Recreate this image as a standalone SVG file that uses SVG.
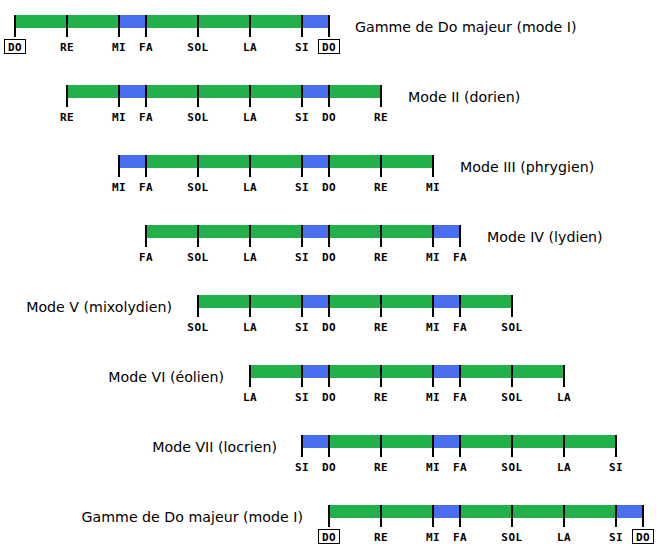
<svg xmlns="http://www.w3.org/2000/svg" width="660" height="549" viewBox="0 0 660 549">
<style>
.t{fill:#22b04b}
.s{fill:#4a6ef0}
.k{stroke:#000;stroke-width:2}
.n{font-family:"DejaVu Sans Mono",monospace;font-weight:bold;font-size:11px;text-anchor:middle;fill:#000;letter-spacing:0.5px}
.b{fill:none;stroke:#000;stroke-width:1}
.L{font-family:"DejaVu Sans",Verdana,sans-serif;font-size:14.2px;fill:#000}
.e{text-anchor:end}
</style>
<rect width="660" height="549" fill="#fff"/>

<g id="row1" transform="translate(0,15)">
<rect class="t" x="15" y="0" width="52" height="13"/><rect class="t" x="67" y="0" width="52" height="13"/><rect class="s" x="119" y="0" width="27" height="13"/><rect class="t" x="146" y="0" width="52" height="13"/><rect class="t" x="198" y="0" width="52" height="13"/><rect class="t" x="250" y="0" width="52" height="13"/><rect class="s" x="302" y="0" width="27" height="13"/>
<path class="k" d="M15 0V22M67 0V22M119 0V22M146 0V22M198 0V22M250 0V22M302 0V22M329 0V22"/>
<rect class="b" x="4.5" y="24.5" width="21" height="14"/><rect class="b" x="318.5" y="24.5" width="21" height="14"/>
<text class="n" y="36"><tspan x="15">DO</tspan><tspan x="67">RE</tspan><tspan x="119">MI</tspan><tspan x="146">FA</tspan><tspan x="198">SOL</tspan><tspan x="250">LA</tspan><tspan x="302">SI</tspan><tspan x="329">DO</tspan></text>
<text class="L" x="355" y="17">Gamme de Do majeur (mode I)</text>
</g>

<g id="row2" transform="translate(0,85)">
<rect class="t" x="67" y="0" width="52" height="13"/><rect class="s" x="119" y="0" width="27" height="13"/><rect class="t" x="146" y="0" width="52" height="13"/><rect class="t" x="198" y="0" width="52" height="13"/><rect class="t" x="250" y="0" width="52" height="13"/><rect class="s" x="302" y="0" width="27" height="13"/><rect class="t" x="329" y="0" width="52" height="13"/>
<path class="k" d="M67 0V22M119 0V22M146 0V22M198 0V22M250 0V22M302 0V22M329 0V22M381 0V22"/>
<text class="n" y="36"><tspan x="67">RE</tspan><tspan x="119">MI</tspan><tspan x="146">FA</tspan><tspan x="198">SOL</tspan><tspan x="250">LA</tspan><tspan x="302">SI</tspan><tspan x="329">DO</tspan><tspan x="381">RE</tspan></text>
<text class="L" x="408" y="17">Mode II (dorien)</text>
</g>

<g id="row3" transform="translate(0,155)">
<rect class="s" x="119" y="0" width="27" height="13"/><rect class="t" x="146" y="0" width="52" height="13"/><rect class="t" x="198" y="0" width="52" height="13"/><rect class="t" x="250" y="0" width="52" height="13"/><rect class="s" x="302" y="0" width="27" height="13"/><rect class="t" x="329" y="0" width="52" height="13"/><rect class="t" x="381" y="0" width="52" height="13"/>
<path class="k" d="M119 0V22M146 0V22M198 0V22M250 0V22M302 0V22M329 0V22M381 0V22M433 0V22"/>
<text class="n" y="36"><tspan x="119">MI</tspan><tspan x="146">FA</tspan><tspan x="198">SOL</tspan><tspan x="250">LA</tspan><tspan x="302">SI</tspan><tspan x="329">DO</tspan><tspan x="381">RE</tspan><tspan x="433">MI</tspan></text>
<text class="L" x="460" y="17">Mode III (phrygien)</text>
</g>

<g id="row4" transform="translate(0,225)">
<rect class="t" x="146" y="0" width="52" height="13"/><rect class="t" x="198" y="0" width="52" height="13"/><rect class="t" x="250" y="0" width="52" height="13"/><rect class="s" x="302" y="0" width="27" height="13"/><rect class="t" x="329" y="0" width="52" height="13"/><rect class="t" x="381" y="0" width="52" height="13"/><rect class="s" x="433" y="0" width="27" height="13"/>
<path class="k" d="M146 0V22M198 0V22M250 0V22M302 0V22M329 0V22M381 0V22M433 0V22M460 0V22"/>
<text class="n" y="36"><tspan x="146">FA</tspan><tspan x="198">SOL</tspan><tspan x="250">LA</tspan><tspan x="302">SI</tspan><tspan x="329">DO</tspan><tspan x="381">RE</tspan><tspan x="433">MI</tspan><tspan x="460">FA</tspan></text>
<text class="L" x="487" y="17">Mode IV (lydien)</text>
</g>

<g id="row5" transform="translate(0,295)">
<rect class="t" x="198" y="0" width="52" height="13"/><rect class="t" x="250" y="0" width="52" height="13"/><rect class="s" x="302" y="0" width="27" height="13"/><rect class="t" x="329" y="0" width="52" height="13"/><rect class="t" x="381" y="0" width="52" height="13"/><rect class="s" x="433" y="0" width="27" height="13"/><rect class="t" x="460" y="0" width="52" height="13"/>
<path class="k" d="M198 0V22M250 0V22M302 0V22M329 0V22M381 0V22M433 0V22M460 0V22M512 0V22"/>
<text class="n" y="36"><tspan x="198">SOL</tspan><tspan x="250">LA</tspan><tspan x="302">SI</tspan><tspan x="329">DO</tspan><tspan x="381">RE</tspan><tspan x="433">MI</tspan><tspan x="460">FA</tspan><tspan x="512">SOL</tspan></text>
<text class="L e" x="172" y="17">Mode V (mixolydien)</text>
</g>

<g id="row6" transform="translate(0,365)">
<rect class="t" x="250" y="0" width="52" height="13"/><rect class="s" x="302" y="0" width="27" height="13"/><rect class="t" x="329" y="0" width="52" height="13"/><rect class="t" x="381" y="0" width="52" height="13"/><rect class="s" x="433" y="0" width="27" height="13"/><rect class="t" x="460" y="0" width="52" height="13"/><rect class="t" x="512" y="0" width="52" height="13"/>
<path class="k" d="M250 0V22M302 0V22M329 0V22M381 0V22M433 0V22M460 0V22M512 0V22M564 0V22"/>
<text class="n" y="36"><tspan x="250">LA</tspan><tspan x="302">SI</tspan><tspan x="329">DO</tspan><tspan x="381">RE</tspan><tspan x="433">MI</tspan><tspan x="460">FA</tspan><tspan x="512">SOL</tspan><tspan x="564">LA</tspan></text>
<text class="L e" x="224" y="17">Mode VI (éolien)</text>
</g>

<g id="row7" transform="translate(0,435)">
<rect class="s" x="302" y="0" width="27" height="13"/><rect class="t" x="329" y="0" width="52" height="13"/><rect class="t" x="381" y="0" width="52" height="13"/><rect class="s" x="433" y="0" width="27" height="13"/><rect class="t" x="460" y="0" width="52" height="13"/><rect class="t" x="512" y="0" width="52" height="13"/><rect class="t" x="564" y="0" width="52" height="13"/>
<path class="k" d="M302 0V22M329 0V22M381 0V22M433 0V22M460 0V22M512 0V22M564 0V22M616 0V22"/>
<text class="n" y="36"><tspan x="302">SI</tspan><tspan x="329">DO</tspan><tspan x="381">RE</tspan><tspan x="433">MI</tspan><tspan x="460">FA</tspan><tspan x="512">SOL</tspan><tspan x="564">LA</tspan><tspan x="616">SI</tspan></text>
<text class="L e" x="277" y="17">Mode VII (locrien)</text>
</g>

<g id="row8" transform="translate(0,505)">
<rect class="t" x="329" y="0" width="52" height="13"/><rect class="t" x="381" y="0" width="52" height="13"/><rect class="s" x="433" y="0" width="27" height="13"/><rect class="t" x="460" y="0" width="52" height="13"/><rect class="t" x="512" y="0" width="52" height="13"/><rect class="t" x="564" y="0" width="52" height="13"/><rect class="s" x="616" y="0" width="27" height="13"/>
<path class="k" d="M329 0V22M381 0V22M433 0V22M460 0V22M512 0V22M564 0V22M616 0V22M643 0V22"/>
<rect class="b" x="318.5" y="24.5" width="21" height="14"/><rect class="b" x="632.5" y="24.5" width="21" height="14"/>
<text class="n" y="36"><tspan x="329">DO</tspan><tspan x="381">RE</tspan><tspan x="433">MI</tspan><tspan x="460">FA</tspan><tspan x="512">SOL</tspan><tspan x="564">LA</tspan><tspan x="616">SI</tspan><tspan x="643">DO</tspan></text>
<text class="L e" x="303" y="17">Gamme de Do majeur (mode I)</text>
</g>
</svg>
